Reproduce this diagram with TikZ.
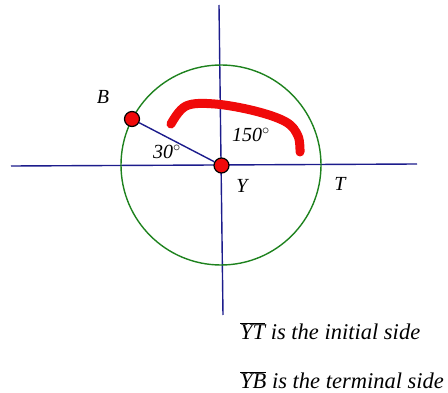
\documentclass[tikz,border=0pt]{standalone}
\usepackage{fontspec}
\setmainfont{Liberation Serif}
\usepackage{xcolor}
\usetikzlibrary{positioning}
\definecolor{axisblue}{RGB}{28,28,140}
\definecolor{ringgreen}{RGB}{30,130,30}
\definecolor{markred}{RGB}{240,10,10}

\begin{document}
\begin{tikzpicture}[x=1pt, y=-1pt,
  axis/.style={draw=axisblue, line width=1.4pt},
  dot/.style={circle, draw=black, line width=1.2pt, fill=markred,
    minimum size=15pt, inner sep=0pt},
  lbl/.style={font=\fontsize{20}{22}\selectfont\itshape},
  note/.style={font=\fontsize{22.5}{25}\selectfont\itshape, anchor=west, inner sep=0pt}
]
\useasboundingbox (0,0) rectangle (448,393);
\coordinate (xl) at (11,166);
\coordinate (xr) at (417,164);
\coordinate (yt) at (219,5);
\coordinate (yb) at (223,315);
\draw[axis] (xl) -- (xr);
\draw[axis] (yt) -- (yb);
\draw[draw=ringgreen, line width=1.4pt] (221,165) circle [radius=100pt];
% hand-drawn arc for the 150 degree angle
\draw[markred, line width=9pt, line cap=round, line join=round]
  plot[smooth, tension=0.6] coordinates {(171,124) (186,106) (215,104) (255,111) (286,122) (298,136) (300,152)};
\node[dot] (b) at (132,119) {};
\node[dot] (y) at (221.5,165.5) {};
\draw[draw=axisblue, line width=1.4pt] (b) -- (y);
\node[lbl] (lb) at (103,97) {B};
\node[lbl] (ly) at (242,186) {Y};
\node[lbl] (lt) at (340,184) {T};
\node[lbl] (a30) at (167,152) {30$^{\circ}$};
\node[lbl] (a150) at (251,135) {150$^{\circ}$};
\node[note] (n1) at (240,331) {$\overline{\mbox{\itshape YT}}$ is the initial side};
\node[note] (n2) at (240,380) {$\overline{\mbox{\itshape YB}}$ is the terminal side};
\end{tikzpicture}
\end{document}
